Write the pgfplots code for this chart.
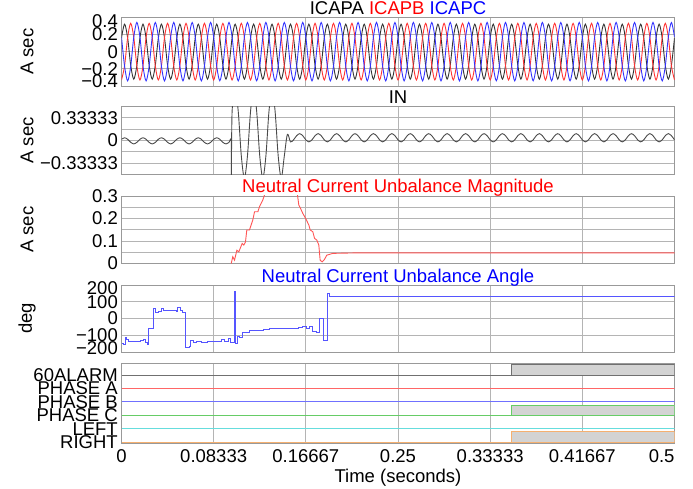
\documentclass[border=0pt]{standalone}
\usepackage{fontspec}
\setmainfont{Liberation Sans}
\usepackage{pgfplots}
\usepackage{pgfplotstable}
\pgfplotsset{compat=1.18}

\definecolor{traceA}{HTML}{333333}
\definecolor{traceB}{HTML}{FF3333}
\definecolor{traceC}{HTML}{3333FF}
\definecolor{inn}{HTML}{4A4A4A}
\definecolor{magc}{HTML}{FF5555}
\definecolor{angc}{HTML}{5555FF}
\definecolor{gridc}{HTML}{B4B4B4}
\definecolor{framec}{HTML}{999999}
\definecolor{dAlarm}{HTML}{707070}
\definecolor{dA}{HTML}{FF6666}
\definecolor{dB}{HTML}{7070FF}
\definecolor{dC}{HTML}{66CC66}
\definecolor{dL}{HTML}{66DDDD}
\definecolor{dR}{HTML}{F5B070}
\definecolor{hi}{HTML}{D3D3D3}

% label moved up/down without changing its box
\newcommand{\lab}[2]{\raisebox{#1}[0pt][0pt]{#2}}

% t (s), ICAPA, ICAPB, ICAPC, IN
\pgfplotstableread{
t a b c n
0 0.16 -0.33 0.17 0.018
0.00278 0.32 -0.165 -0.17 0.04
0.00556 0.16 0.165 -0.34 0.018
0.00833 -0.16 0.33 -0.17 -0.027
0.01111 -0.32 0.165 0.17 -0.05
0.01389 -0.16 -0.165 0.34 -0.027
0.01667 0.16 -0.33 0.17 0.018
0.01944 0.32 -0.165 -0.17 0.04
0.02222 0.16 0.165 -0.34 0.018
0.025 -0.16 0.33 -0.17 -0.027
0.02778 -0.32 0.165 0.17 -0.05
0.03056 -0.16 -0.165 0.34 -0.027
0.03333 0.16 -0.33 0.17 0.018
0.03611 0.32 -0.165 -0.17 0.04
0.03889 0.16 0.165 -0.34 0.018
0.04167 -0.16 0.33 -0.17 -0.027
0.04444 -0.32 0.165 0.17 -0.05
0.04722 -0.16 -0.165 0.34 -0.027
0.05 0.16 -0.33 0.17 0.018
0.05278 0.32 -0.165 -0.17 0.04
0.05556 0.16 0.165 -0.34 0.018
0.05833 -0.16 0.33 -0.17 -0.027
0.06111 -0.32 0.165 0.17 -0.05
0.06389 -0.16 -0.165 0.34 -0.027
0.06667 0.16 -0.33 0.17 0.018
0.06944 0.32 -0.165 -0.17 0.04
0.07222 0.16 0.165 -0.34 0.018
0.075 -0.16 0.33 -0.17 -0.027
0.07778 -0.32 0.165 0.17 -0.05
0.08056 -0.16 -0.165 0.34 -0.027
0.08333 0.16 -0.33 0.17 0.018
0.08611 0.32 -0.165 -0.17 0.04
0.08889 0.16 0.165 -0.34 0.018
0.09167 -0.16 0.33 -0.17 -0.027
0.09444 -0.32 0.165 0.17 -0.05
0.09722 -0.16 -0.165 0.34 -0.027
0.0992 nan nan nan -0.005
0.0993 nan nan nan -0.55
0.1 0.16 -0.33 0.17 0.425
0.10278 0.32 -0.165 -0.17 0.75
0.10556 0.16 0.165 -0.34 0.425
0.10833 -0.16 0.33 -0.17 -0.225
0.11111 -0.32 0.165 0.17 -0.55
0.11389 -0.16 -0.165 0.34 -0.225
0.11667 0.16 -0.33 0.17 0.425
0.11944 0.32 -0.165 -0.17 0.75
0.12222 0.16 0.165 -0.34 0.425
0.125 -0.16 0.33 -0.17 -0.225
0.12778 -0.32 0.165 0.17 -0.55
0.13056 -0.16 -0.165 0.34 -0.225
0.13333 0.16 -0.33 0.17 0.425
0.13611 0.32 -0.165 -0.17 0.75
0.13889 0.16 0.165 -0.34 0.425
0.14167 -0.16 0.33 -0.17 -0.225
0.14444 -0.32 0.165 0.17 -0.55
0.14722 -0.16 -0.165 0.34 -0.225
0.15 0.16 -0.33 0.17 0.09
0.15278 0.32 -0.165 -0.17 -0.02
0.15556 0.16 0.165 -0.34 0.01
0.15833 -0.16 0.33 -0.17 0.07
0.16111 -0.32 0.165 0.17 0.1
0.16389 -0.16 -0.165 0.34 0.07
0.16667 0.16 -0.33 0.17 0.01
0.16944 0.32 -0.165 -0.17 -0.02
0.17222 0.16 0.165 -0.34 0.01
0.175 -0.16 0.33 -0.17 0.07
0.17778 -0.32 0.165 0.17 0.1
0.18056 -0.16 -0.165 0.34 0.07
0.18333 0.16 -0.33 0.17 0.01
0.18611 0.32 -0.165 -0.17 -0.02
0.18889 0.16 0.165 -0.34 0.01
0.19167 -0.16 0.33 -0.17 0.07
0.19444 -0.32 0.165 0.17 0.1
0.19722 -0.16 -0.165 0.34 0.07
0.2 0.16 -0.33 0.17 0.01
0.20278 0.32 -0.165 -0.17 -0.02
0.20556 0.16 0.165 -0.34 0.01
0.20833 -0.16 0.33 -0.17 0.07
0.21111 -0.32 0.165 0.17 0.1
0.21389 -0.16 -0.165 0.34 0.07
0.21667 0.16 -0.33 0.17 0.01
0.21944 0.32 -0.165 -0.17 -0.02
0.22222 0.16 0.165 -0.34 0.01
0.225 -0.16 0.33 -0.17 0.07
0.22778 -0.32 0.165 0.17 0.1
0.23056 -0.16 -0.165 0.34 0.07
0.23333 0.16 -0.33 0.17 0.01
0.23611 0.32 -0.165 -0.17 -0.02
0.23889 0.16 0.165 -0.34 0.01
0.24167 -0.16 0.33 -0.17 0.07
0.24444 -0.32 0.165 0.17 0.1
0.24722 -0.16 -0.165 0.34 0.07
0.25 0.16 -0.33 0.17 0.01
0.25278 0.32 -0.165 -0.17 -0.02
0.25556 0.16 0.165 -0.34 0.01
0.25833 -0.16 0.33 -0.17 0.07
0.26111 -0.32 0.165 0.17 0.1
0.26389 -0.16 -0.165 0.34 0.07
0.26667 0.16 -0.33 0.17 0.01
0.26944 0.32 -0.165 -0.17 -0.02
0.27222 0.16 0.165 -0.34 0.01
0.275 -0.16 0.33 -0.17 0.07
0.27778 -0.32 0.165 0.17 0.1
0.28056 -0.16 -0.165 0.34 0.07
0.28333 0.16 -0.33 0.17 0.01
0.28611 0.32 -0.165 -0.17 -0.02
0.28889 0.16 0.165 -0.34 0.01
0.29167 -0.16 0.33 -0.17 0.07
0.29444 -0.32 0.165 0.17 0.1
0.29722 -0.16 -0.165 0.34 0.07
0.3 0.16 -0.33 0.17 0.01
0.30278 0.32 -0.165 -0.17 -0.02
0.30556 0.16 0.165 -0.34 0.01
0.30833 -0.16 0.33 -0.17 0.07
0.31111 -0.32 0.165 0.17 0.1
0.31389 -0.16 -0.165 0.34 0.07
0.31667 0.16 -0.33 0.17 0.01
0.31944 0.32 -0.165 -0.17 -0.02
0.32222 0.16 0.165 -0.34 0.01
0.325 -0.16 0.33 -0.17 0.07
0.32778 -0.32 0.165 0.17 0.1
0.33056 -0.16 -0.165 0.34 0.07
0.33333 0.16 -0.33 0.17 0.01
0.33611 0.32 -0.165 -0.17 -0.02
0.33889 0.16 0.165 -0.34 0.01
0.34167 -0.16 0.33 -0.17 0.07
0.34444 -0.32 0.165 0.17 0.1
0.34722 -0.16 -0.165 0.34 0.07
0.35 0.16 -0.33 0.17 0.01
0.35278 0.32 -0.165 -0.17 -0.02
0.35556 0.16 0.165 -0.34 0.01
0.35833 -0.16 0.33 -0.17 0.07
0.36111 -0.32 0.165 0.17 0.1
0.36389 -0.16 -0.165 0.34 0.07
0.36667 0.16 -0.33 0.17 0.01
0.36944 0.32 -0.165 -0.17 -0.02
0.37222 0.16 0.165 -0.34 0.01
0.375 -0.16 0.33 -0.17 0.07
0.37778 -0.32 0.165 0.17 0.1
0.38056 -0.16 -0.165 0.34 0.07
0.38333 0.16 -0.33 0.17 0.01
0.38611 0.32 -0.165 -0.17 -0.02
0.38889 0.16 0.165 -0.34 0.01
0.39167 -0.16 0.33 -0.17 0.07
0.39444 -0.32 0.165 0.17 0.1
0.39722 -0.16 -0.165 0.34 0.07
0.4 0.16 -0.33 0.17 0.01
0.40278 0.32 -0.165 -0.17 -0.02
0.40556 0.16 0.165 -0.34 0.01
0.40833 -0.16 0.33 -0.17 0.07
0.41111 -0.32 0.165 0.17 0.1
0.41389 -0.16 -0.165 0.34 0.07
0.41667 0.16 -0.33 0.17 0.01
0.41944 0.32 -0.165 -0.17 -0.02
0.42222 0.16 0.165 -0.34 0.01
0.425 -0.16 0.33 -0.17 0.07
0.42778 -0.32 0.165 0.17 0.1
0.43056 -0.16 -0.165 0.34 0.07
0.43333 0.16 -0.33 0.17 0.01
0.43611 0.32 -0.165 -0.17 -0.02
0.43889 0.16 0.165 -0.34 0.01
0.44167 -0.16 0.33 -0.17 0.07
0.44444 -0.32 0.165 0.17 0.1
0.44722 -0.16 -0.165 0.34 0.07
0.45 0.16 -0.33 0.17 0.01
0.45278 0.32 -0.165 -0.17 -0.02
0.45556 0.16 0.165 -0.34 0.01
0.45833 -0.16 0.33 -0.17 0.07
0.46111 -0.32 0.165 0.17 0.1
0.46389 -0.16 -0.165 0.34 0.07
0.46667 0.16 -0.33 0.17 0.01
0.46944 0.32 -0.165 -0.17 -0.02
0.47222 0.16 0.165 -0.34 0.01
0.475 -0.16 0.33 -0.17 0.07
0.47778 -0.32 0.165 0.17 0.1
0.48056 -0.16 -0.165 0.34 0.07
0.48333 0.16 -0.33 0.17 0.01
0.48611 0.32 -0.165 -0.17 -0.02
0.48889 0.16 0.165 -0.34 0.01
0.49167 -0.16 0.33 -0.17 0.07
0.49444 -0.32 0.165 0.17 0.1
0.49722 -0.16 -0.165 0.34 0.07
0.5 0.16 -0.33 0.17 0.01
}\wave

\pgfplotsset{
  panel/.style={
    scale only axis, width=553pt, anchor=south west,
    xmin=0, xmax=0.5,
    xtick={0,0.083333,0.166667,0.25,0.333333,0.416667,0.5},
    xticklabels={},
    major tick length=0pt,
    grid=major,
    major grid style={gridc, line width=0.8pt},
    axis line style={framec, line width=0.9pt},
    font=\fontsize{18.5}{20}\selectfont,
    every tick label/.append style={inner sep=1.5pt},
    yticklabel style={xshift=-2pt},
    every axis title/.style={at={(0.5,1)}, anchor=base, yshift=3pt, inner sep=0pt},
  },
}

\begin{document}
\begin{tikzpicture}
\path[use as bounding box] (0,0) rectangle (693pt,488pt);

% ---- phase currents ----
\begin{axis}[panel, at={(121.5pt,402pt)}, height=68.7pt,
  ymin=-0.4, ymax=0.4, ytick={-0.4,-0.2,0,0.2,0.4},
  yticklabels={\lab{-1.1pt}{−0.4},−0.2,0,0.2,\lab{-10.1pt}{0.4}},
  title={ICAPA \textcolor{red}{ICAPB} \textcolor{blue}{ICAPC}}]
\addplot[traceA, line width=0.9pt, smooth] table[x=t,y=a] {\wave};
\addplot[traceB, line width=0.9pt, smooth] table[x=t,y=b] {\wave};
\addplot[traceC, line width=0.9pt, smooth] table[x=t,y=c] {\wave};
\end{axis}

% ---- neutral current ----
\begin{axis}[panel, at={(121.5pt,313.3pt)}, height=68.4pt,
  ymin=-0.5, ymax=0.5,
  ytick={-0.5,-0.333333,-0.166667,0,0.166667,0.333333,0.5},
  yticklabels={,−0.33333,,0,,0.33333,},
  title={IN}]
\addplot[inn, line width=0.9pt, smooth] table[x=t,y=n] {\wave};
\end{axis}

% ---- unbalance magnitude ----
\begin{axis}[panel, at={(121.5pt,224.5pt)}, height=67.5pt,
  ymin=0, ymax=0.3, ytick={0,0.05,0.1,0.15,0.2,0.25,0.3},
  yticklabels={0,,0.1,,0.2,,0.3},
  title={\textcolor{red}{Neutral Current Unbalance Magnitude}}]
\addplot[magc, line width=0.9pt] coordinates {
 (0.0992,0) (0.1006,0.03) (0.1022,0.015) (0.1043,0.059) (0.1061,0.052)
 (0.1073,0.067) (0.1091,0.089) (0.1106,0.082) (0.1121,0.096) (0.1133,0.149)
 (0.1157,0.149) (0.1187,0.193) (0.1203,0.23) (0.1233,0.23) (0.1248,0.253)
 (0.1278,0.283) (0.1299,0.313) (0.135,0.38) (0.143,0.42) (0.151,0.38)
 (0.1589,0.313) (0.1603,0.26) (0.1625,0.238) (0.1639,0.223) (0.1664,0.201)
 (0.1694,0.171) (0.1706,0.149) (0.1730,0.141) (0.1745,0.112) (0.1766,0.104)
 (0.1784,0.082) (0.1796,0.015) (0.1814,0.007) (0.1835,0.018) (0.1856,0.037)
 (0.1911,0.045) (0.21,0.047) (0.5,0.047)};
\end{axis}

% ---- unbalance angle ----
\begin{axis}[panel, at={(121.5pt,136pt)}, height=67pt,
  ymin=-200, ymax=200, ytick={-200,-100,0,100,200},
  yticklabels={\lab{-2.9pt}{−200},−100,0,100,\lab{-9.3pt}{200}},
  title={\textcolor{blue}{Neutral Current Unbalance Angle}}]
\addplot[angc, line width=0.9pt, const plot] coordinates {
 (0,-150) (0.0016,-155) (0.0032,-115) (0.0047,-128) (0.0065,-135)
 (0.0120,-138) (0.0170,-130) (0.0200,-128) (0.0215,-140) (0.0232,-155)
 (0.0245,-61) (0.0290,58) (0.0310,34) (0.0330,40) (0.0360,58)
 (0.0380,50) (0.0440,48) (0.0499,45) (0.0510,64) (0.0530,50)
 (0.0555,34) (0.0575,-175) (0.0610,-168) (0.0625,-130) (0.0650,-140)
 (0.0680,-136) (0.0720,-140) (0.0780,-138) (0.0850,-136) (0.0900,-124)
 (0.0935,-136) (0.0965,-121) (0.0985,-141) (0.1020,163) (0.1032,-150)
 (0.1045,-106) (0.1070,-112) (0.1090,-82) (0.1120,-86) (0.1160,-70)
 (0.1220,-72) (0.1280,-66) (0.1340,-58) (0.1550,-58) (0.1600,-52)
 (0.1640,-46) (0.1670,-62) (0.1700,-48) (0.1730,-76) (0.1760,-82)
 (0.1790,0) (0.1830,-130) (0.1860,149) (0.1880,130) (0.5,130)};
\end{axis}

% ---- digital channels ----
\begin{axis}[panel, at={(121.5pt,44.7pt)}, height=80pt,
  ymin=-0.07, ymax=5.87, ytick={0,1,2,3,4,5},
  ymajorgrids=false,
  yticklabels={RIGHT,LEFT,PHASE C,PHASE B,PHASE A,60ALARM},
  xticklabels={0,0.08333,0.16667,0.25,0.33333,0.41667,\makebox[0pt][r]{0.5}},
  xticklabel style={yshift=-5pt},
  xlabel={Time (seconds)},
  xlabel style={at={(0.5,0)}, anchor=base, yshift=-39pt}]
\addplot[dAlarm, line width=1pt] coordinates {(0,5) (0.5,5)};
\addplot[dA, line width=1pt] coordinates {(0,4) (0.5,4)};
\addplot[dB, line width=1pt] coordinates {(0,3) (0.5,3)};
\addplot[dC, line width=1pt] coordinates {(0,2) (0.5,2)};
\addplot[dL, line width=1pt] coordinates {(0,1) (0.5,1)};
\addplot[dR, line width=1pt] coordinates {(0,0) (0.5,0)};
\addplot[dAlarm, fill=hi, line width=1pt] coordinates {(0.3528,5) (0.3528,5.77) (0.5,5.77) (0.5,5)};
\addplot[dC, fill=hi, line width=1pt] coordinates {(0.3528,2) (0.3528,2.77) (0.5,2.77) (0.5,2)};
\addplot[dR, fill=hi, line width=1pt] coordinates {(0.3528,0) (0.3528,0.77) (0.5,0.77) (0.5,0)};
\end{axis}

% y axis labels
\node[rotate=90, font=\fontsize{18.5}{20}\selectfont] at (27pt,436.3pt) {A sec};
\node[rotate=90, font=\fontsize{18.5}{20}\selectfont] at (27pt,347.5pt) {A sec};
\node[rotate=90, font=\fontsize{18.5}{20}\selectfont] at (27pt,258.2pt) {A sec};
\node[rotate=90, font=\fontsize{18.5}{20}\selectfont] at (27pt,169.5pt) {deg};
\end{tikzpicture}
\end{document}
